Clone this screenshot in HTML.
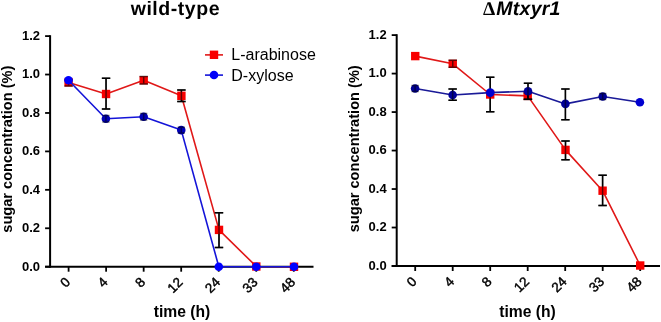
<!DOCTYPE html>
<html><head><meta charset="utf-8"><style>
html,body{margin:0;padding:0;background:#fff;}
body{width:661px;height:322px;overflow:hidden;position:relative;}
svg{position:absolute;left:0;top:0;will-change:transform;}
text{font-family:"Liberation Sans",sans-serif;fill:#000;}
.yt{font-size:13px;font-weight:bold;}
.xt{font-size:13.5px;stroke:#000;stroke-width:0.45px;}
.yl{font-size:14.6px;font-weight:bold;}
.ti{font-size:19.5px;font-weight:bold;text-rendering:geometricPrecision;}
.xl{font-size:15.7px;font-weight:bold;}
.lg{font-size:16px;}
</style></head><body>
<svg width="661" height="322" viewBox="0 0 661 322">
<line x1="50.1" y1="35.2" x2="50.1" y2="267.7" stroke="#000" stroke-width="2"/>
<line x1="45.1" y1="266.7" x2="313.5" y2="266.7" stroke="#000" stroke-width="2"/>
<line x1="45.1" y1="266.70" x2="50.1" y2="266.70" stroke="#000" stroke-width="1.8"/>
<text x="40.1" y="270.50" text-anchor="end" class="yt">0.0</text>
<line x1="45.1" y1="228.27" x2="50.1" y2="228.27" stroke="#000" stroke-width="1.8"/>
<text x="40.1" y="232.07" text-anchor="end" class="yt">0.2</text>
<line x1="45.1" y1="189.83" x2="50.1" y2="189.83" stroke="#000" stroke-width="1.8"/>
<text x="40.1" y="193.63" text-anchor="end" class="yt">0.4</text>
<line x1="45.1" y1="151.40" x2="50.1" y2="151.40" stroke="#000" stroke-width="1.8"/>
<text x="40.1" y="155.20" text-anchor="end" class="yt">0.6</text>
<line x1="45.1" y1="112.97" x2="50.1" y2="112.97" stroke="#000" stroke-width="1.8"/>
<text x="40.1" y="116.77" text-anchor="end" class="yt">0.8</text>
<line x1="45.1" y1="74.53" x2="50.1" y2="74.53" stroke="#000" stroke-width="1.8"/>
<text x="40.1" y="78.33" text-anchor="end" class="yt">1.0</text>
<line x1="45.1" y1="36.10" x2="50.1" y2="36.10" stroke="#000" stroke-width="1.8"/>
<text x="40.1" y="39.90" text-anchor="end" class="yt">1.2</text>
<line x1="68.60" y1="266.7" x2="68.60" y2="271.7" stroke="#000" stroke-width="1.8"/>
<text transform="translate(70.95,283.05) rotate(-45)" text-anchor="end" class="xt">0</text>
<line x1="106.13" y1="266.7" x2="106.13" y2="271.7" stroke="#000" stroke-width="1.8"/>
<text transform="translate(108.48,283.05) rotate(-45)" text-anchor="end" class="xt">4</text>
<line x1="143.66" y1="266.7" x2="143.66" y2="271.7" stroke="#000" stroke-width="1.8"/>
<text transform="translate(146.01,283.05) rotate(-45)" text-anchor="end" class="xt">8</text>
<line x1="181.19" y1="266.7" x2="181.19" y2="271.7" stroke="#000" stroke-width="1.8"/>
<text transform="translate(183.54,283.05) rotate(-45)" text-anchor="end" class="xt">12</text>
<line x1="218.72" y1="266.7" x2="218.72" y2="271.7" stroke="#000" stroke-width="1.8"/>
<text transform="translate(221.07,283.05) rotate(-45)" text-anchor="end" class="xt">24</text>
<line x1="256.25" y1="266.7" x2="256.25" y2="271.7" stroke="#000" stroke-width="1.8"/>
<text transform="translate(258.60,283.05) rotate(-45)" text-anchor="end" class="xt">33</text>
<line x1="293.78" y1="266.7" x2="293.78" y2="271.7" stroke="#000" stroke-width="1.8"/>
<text transform="translate(296.13,283.05) rotate(-45)" text-anchor="end" class="xt">48</text>
<polyline points="68.60,82.40 106.05,94.00 143.70,80.30 181.40,95.80 219.00,229.90 256.30,266.50 294.00,266.80" fill="none" stroke="#e01818" stroke-width="1.6" stroke-linejoin="round"/>
<path d="M106.05 78.20V109.00M101.85 78.20H110.25M101.85 109.00H110.25M181.40 90.00V101.50M177.20 90.00H185.60M177.20 101.50H185.60M219.00 212.80V247.60M214.80 212.80H223.20M214.80 247.60H223.20" stroke="#000" stroke-width="1.5" fill="none"/>
<rect x="64.40" y="78.20" width="8.4" height="8.4" fill="#f80000"/>
<rect x="101.85" y="89.80" width="8.4" height="8.4" fill="#f80000"/>
<rect x="139.50" y="76.10" width="8.4" height="8.4" fill="#f80000"/>
<rect x="177.20" y="91.60" width="8.4" height="8.4" fill="#f80000"/>
<rect x="214.80" y="225.70" width="8.4" height="8.4" fill="#f80000"/>
<rect x="252.10" y="262.30" width="8.4" height="8.4" fill="#f80000"/>
<rect x="289.80" y="262.60" width="8.4" height="8.4" fill="#f80000"/>
<path d="M68.60 79.50V86.00M64.40 79.50H72.80M64.40 86.00H72.80M106.05 78.20V109.00M101.85 78.20H110.25M101.85 109.00H110.25M143.70 76.50V84.00M139.50 76.50H147.90M139.50 84.00H147.90M181.40 90.00V101.50M177.20 90.00H185.60M177.20 101.50H185.60M219.00 212.80V247.60M214.80 212.80H223.20M214.80 247.60H223.20" stroke="#000" stroke-opacity="0.6" stroke-width="1.5" fill="none"/>
<polyline points="68.50,80.20 105.90,118.80 143.70,116.80 181.25,130.10 218.80,266.70 256.30,266.70 294.00,266.80" fill="none" stroke="#1414d8" stroke-width="1.6" stroke-linejoin="round"/>
<circle cx="68.50" cy="80.20" r="4.3" fill="#0000ff"/>
<circle cx="105.90" cy="118.80" r="4.3" fill="#0000b8"/>
<circle cx="143.70" cy="116.80" r="4.3" fill="#0000b8"/>
<circle cx="181.25" cy="130.10" r="4.3" fill="#0000b8"/>
<circle cx="218.80" cy="266.70" r="4.3" fill="#0000ff"/>
<circle cx="256.30" cy="266.70" r="4.3" fill="#0000ff"/>
<circle cx="294.00" cy="266.80" r="4.3" fill="#0000ff"/>
<path d="M105.90 115.50V122.10M102.30 115.50H109.50M102.30 122.10H109.50M143.70 113.50V120.10M140.10 113.50H147.30M140.10 120.10H147.30M181.25 127.30V133.00M177.65 127.30H184.85M177.65 133.00H184.85" stroke="#000" stroke-opacity="0.5" stroke-width="1.5" fill="none"/>
<text transform="translate(11.7,149.2) rotate(-90)" text-anchor="middle" class="yl">sugar concentration (%)</text>
<line x1="396.7" y1="34.2" x2="396.7" y2="267.0" stroke="#000" stroke-width="2"/>
<line x1="391.7" y1="266.0" x2="660.0" y2="266.0" stroke="#000" stroke-width="2"/>
<line x1="391.7" y1="266.00" x2="396.7" y2="266.00" stroke="#000" stroke-width="1.8"/>
<text x="386.7" y="269.80" text-anchor="end" class="yt">0.0</text>
<line x1="391.7" y1="227.52" x2="396.7" y2="227.52" stroke="#000" stroke-width="1.8"/>
<text x="386.7" y="231.32" text-anchor="end" class="yt">0.2</text>
<line x1="391.7" y1="189.03" x2="396.7" y2="189.03" stroke="#000" stroke-width="1.8"/>
<text x="386.7" y="192.83" text-anchor="end" class="yt">0.4</text>
<line x1="391.7" y1="150.55" x2="396.7" y2="150.55" stroke="#000" stroke-width="1.8"/>
<text x="386.7" y="154.35" text-anchor="end" class="yt">0.6</text>
<line x1="391.7" y1="112.07" x2="396.7" y2="112.07" stroke="#000" stroke-width="1.8"/>
<text x="386.7" y="115.87" text-anchor="end" class="yt">0.8</text>
<line x1="391.7" y1="73.58" x2="396.7" y2="73.58" stroke="#000" stroke-width="1.8"/>
<text x="386.7" y="77.38" text-anchor="end" class="yt">1.0</text>
<line x1="391.7" y1="35.10" x2="396.7" y2="35.10" stroke="#000" stroke-width="1.8"/>
<text x="386.7" y="38.90" text-anchor="end" class="yt">1.2</text>
<line x1="415.20" y1="266.0" x2="415.20" y2="271.0" stroke="#000" stroke-width="1.8"/>
<text transform="translate(417.55,282.35) rotate(-45)" text-anchor="end" class="xt">0</text>
<line x1="452.70" y1="266.0" x2="452.70" y2="271.0" stroke="#000" stroke-width="1.8"/>
<text transform="translate(455.05,282.35) rotate(-45)" text-anchor="end" class="xt">4</text>
<line x1="490.20" y1="266.0" x2="490.20" y2="271.0" stroke="#000" stroke-width="1.8"/>
<text transform="translate(492.55,282.35) rotate(-45)" text-anchor="end" class="xt">8</text>
<line x1="527.70" y1="266.0" x2="527.70" y2="271.0" stroke="#000" stroke-width="1.8"/>
<text transform="translate(530.05,282.35) rotate(-45)" text-anchor="end" class="xt">12</text>
<line x1="565.20" y1="266.0" x2="565.20" y2="271.0" stroke="#000" stroke-width="1.8"/>
<text transform="translate(567.55,282.35) rotate(-45)" text-anchor="end" class="xt">24</text>
<line x1="602.70" y1="266.0" x2="602.70" y2="271.0" stroke="#000" stroke-width="1.8"/>
<text transform="translate(605.05,282.35) rotate(-45)" text-anchor="end" class="xt">33</text>
<line x1="640.20" y1="266.0" x2="640.20" y2="271.0" stroke="#000" stroke-width="1.8"/>
<text transform="translate(642.55,282.35) rotate(-45)" text-anchor="end" class="xt">48</text>
<polyline points="415.25,56.10 452.75,63.80 490.20,94.50 527.70,95.90 565.50,149.90 602.60,190.70 640.20,265.50" fill="none" stroke="#e01818" stroke-width="1.6" stroke-linejoin="round"/>
<path d="M490.20 77.30V111.70M486.00 77.30H494.40M486.00 111.70H494.40M565.50 140.90V159.80M561.30 140.90H569.70M561.30 159.80H569.70M602.60 175.30V205.60M598.40 175.30H606.80M598.40 205.60H606.80" stroke="#000" stroke-width="1.5" fill="none"/>
<rect x="411.05" y="51.90" width="8.4" height="8.4" fill="#f80000"/>
<rect x="448.55" y="59.60" width="8.4" height="8.4" fill="#f80000"/>
<rect x="486.00" y="90.30" width="8.4" height="8.4" fill="#f80000"/>
<rect x="523.50" y="91.70" width="8.4" height="8.4" fill="#f80000"/>
<rect x="561.30" y="145.70" width="8.4" height="8.4" fill="#f80000"/>
<rect x="598.40" y="186.50" width="8.4" height="8.4" fill="#f80000"/>
<rect x="636.00" y="261.30" width="8.4" height="8.4" fill="#f80000"/>
<path d="M452.75 60.30V67.30M448.55 60.30H456.95M448.55 67.30H456.95M490.20 77.30V111.70M486.00 77.30H494.40M486.00 111.70H494.40M527.70 93.00V99.60M523.50 93.00H531.90M523.50 99.60H531.90M565.50 140.90V159.80M561.30 140.90H569.70M561.30 159.80H569.70M602.60 175.30V205.60M598.40 175.30H606.80M598.40 205.60H606.80" stroke="#000" stroke-opacity="0.6" stroke-width="1.5" fill="none"/>
<polyline points="415.10,88.55 452.65,95.00 490.25,92.60 528.00,91.30 565.40,103.90 602.70,96.50 639.90,102.20" fill="none" stroke="#1a1a98" stroke-width="1.6" stroke-linejoin="round"/>
<path d="M452.65 88.90V100.30M448.45 88.90H456.85M448.45 100.30H456.85M528.00 83.30V99.30M523.80 83.30H532.20M523.80 99.30H532.20M565.40 89.00V119.70M561.20 89.00H569.60M561.20 119.70H569.60" stroke="#000" stroke-width="1.5" fill="none"/>
<circle cx="415.10" cy="88.55" r="4.3" fill="#000098"/>
<circle cx="452.65" cy="95.00" r="4.3" fill="#000098"/>
<circle cx="490.25" cy="92.60" r="4.3" fill="#0000d0"/>
<circle cx="528.00" cy="91.30" r="4.3" fill="#000098"/>
<circle cx="565.40" cy="103.90" r="4.3" fill="#000098"/>
<circle cx="602.70" cy="96.50" r="4.3" fill="#000098"/>
<circle cx="639.90" cy="102.20" r="4.3" fill="#0000d0"/>
<path d="M415.10 85.50V91.60M411.50 85.50H418.70M411.50 91.60H418.70M452.65 88.90V100.30M448.45 88.90H456.85M448.45 100.30H456.85M528.00 83.30V99.30M523.80 83.30H532.20M523.80 99.30H532.20M565.40 89.00V119.70M561.20 89.00H569.60M561.20 119.70H569.60M602.70 93.50V99.50M599.10 93.50H606.30M599.10 99.50H606.30" stroke="#000" stroke-opacity="0.5" stroke-width="1.5" fill="none"/>
<text transform="translate(358.9,148.8) rotate(-90)" text-anchor="middle" class="yl">sugar concentration (%)</text>
<text x="175.4" y="15.1" text-anchor="middle" class="ti" style="letter-spacing:0.55px">wild-type</text>
<text x="483.1" y="15.1" class="ti" style="font-family:&quot;Liberation Serif&quot;,serif">Δ</text><text x="496.3" y="15.1" class="ti" style="font-style:italic;letter-spacing:0.25px">Mtxyr1</text>
<line x1="205" y1="54.9" x2="223" y2="54.9" stroke="#e01818" stroke-width="1.6"/>
<rect x="209.8" y="50.6" width="8.4" height="8.4" fill="#f80000"/>
<line x1="205" y1="75.1" x2="223" y2="75.1" stroke="#1414d8" stroke-width="1.6"/>
<circle cx="214" cy="75" r="4.3" fill="#0000f8"/>
<text x="231.3" y="60.2" class="lg">L-arabinose</text>
<text x="231.3" y="80.7" class="lg">D-xylose</text>
<text x="182" y="317.2" text-anchor="middle" class="xl">time (h)</text>
<text x="527.5" y="317.2" text-anchor="middle" class="xl">time (h)</text>
</svg>
</body></html>
